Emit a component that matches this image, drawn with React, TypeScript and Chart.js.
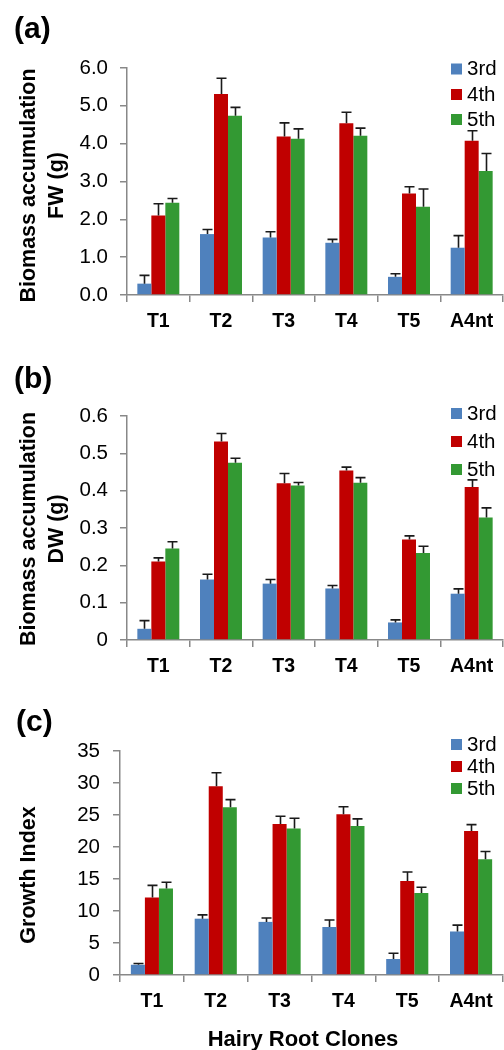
import React, { useEffect, useRef } from "react";
import { Chart, registerables } from "chart.js";

Chart.register(...registerables);

const FONT = '"Liberation Sans", Arial, Helvetica, sans-serif';

// ---------- data ----------
const categories = ["T1", "T2", "T3", "T4", "T5", "A4nt"];
const seriesLabels = ["3rd", "4th", "5th"];
const seriesColors = ["#4F81BD", "#C00000", "#339933"];

// (a) Biomass accumulation FW (g)
const fw3rd = [0.3, 1.61, 1.52, 1.38, 0.48, 1.25];
const fw3rdErr = [0.22, 0.12, 0.15, 0.09, 0.08, 0.32];
const fw4th = [2.1, 5.31, 4.19, 4.54, 2.68, 4.08];
const fw4thErr = [0.31, 0.42, 0.36, 0.29, 0.18, 0.26];
const fw5th = [2.44, 4.74, 4.13, 4.21, 2.33, 3.28];
const fw5thErr = [0.11, 0.22, 0.26, 0.2, 0.47, 0.46];

// (b) Biomass accumulation DW (g)
const dw3rd = [0.03, 0.162, 0.151, 0.138, 0.047, 0.124];
const dw3rdErr = [0.022, 0.014, 0.011, 0.008, 0.007, 0.013];
const dw4th = [0.21, 0.532, 0.42, 0.454, 0.269, 0.41];
const dw4thErr = [0.01, 0.021, 0.026, 0.009, 0.01, 0.019];
const dw5th = [0.245, 0.475, 0.414, 0.421, 0.233, 0.328];
const dw5thErr = [0.018, 0.012, 0.008, 0.014, 0.018, 0.026];

// (c) Growth Index
const gi3rd = [1.6, 8.8, 8.3, 7.5, 2.5, 6.8];
const gi3rdErr = [0.2, 0.6, 0.6, 1.1, 0.9, 1.0];
const gi4th = [12.1, 29.5, 23.6, 25.1, 14.7, 22.5];
const gi4thErr = [1.9, 2.1, 1.2, 1.2, 1.4, 1.0];
const gi5th = [13.5, 26.2, 22.9, 23.3, 12.8, 18.1];
const gi5thErr = [1.0, 1.2, 1.6, 1.1, 0.9, 1.2];

const fwTickLabels = ["0.0", "1.0", "2.0", "3.0", "4.0", "5.0", "6.0"];
const dwTickLabels = ["0", "0.1", "0.2", "0.3", "0.4", "0.5", "0.6"];
const giTickLabels = ["0", "5", "10", "15", "20", "25", "30", "35"];

// ---------- layout ----------
interface PanelSpec {
  top: number;
  height: number;
  tag: string;
  tagX: number;
  tagY: number;
  yTitle: string[];
  yTitleX: number[];
  yTitleCY: number;
  xTitle?: string;
  xTitleX?: number;
  xTitleY?: number;
  area: { left: number; top: number; bottom: number; right: number };
  yMax: number;
  yStep: number;
  tickLabels: string[];
  tickPad: number;
  catPct: number;
  legendYs: number[];
  means: number[][];
  errs: number[][];
}

const panels: PanelSpec[] = [
  {
    top: 0,
    height: 340,
    tag: "(a)",
    tagX: 14,
    tagY: 30,
    yTitle: ["Biomass accumulation", "FW (g)"],
    yTitleX: [29, 57.5],
    yTitleCY: 185.5,
    area: { left: 127, top: 68, bottom: 295, right: 503 },
    yMax: 6,
    yStep: 1,
    tickLabels: fwTickLabels,
    tickPad: 12,
    catPct: 0.67,
    legendYs: [69, 94.5, 119.5],
    means: [fw3rd, fw4th, fw5th],
    errs: [fw3rdErr, fw4thErr, fw5thErr],
  },
  {
    top: 340,
    height: 340,
    tag: "(b)",
    tagX: 14,
    tagY: 40,
    yTitle: ["Biomass accumulation", "DW (g)"],
    yTitleX: [29, 57.5],
    yTitleCY: 189,
    area: { left: 127, top: 76, bottom: 300, right: 503 },
    yMax: 0.6,
    yStep: 0.1,
    tickLabels: dwTickLabels,
    tickPad: 12,
    catPct: 0.67,
    legendYs: [73.5, 101.5, 129.5],
    means: [dw3rd, dw4th, dw5th],
    errs: [dw3rdErr, dw4thErr, dw5thErr],
  },
  {
    top: 680,
    height: 370,
    tag: "(c)",
    tagX: 16,
    tagY: 43,
    yTitle: ["Growth Index"],
    yTitleX: [29],
    yTitleCY: 195,
    xTitle: "Hairy Root Clones",
    xTitleX: 303,
    xTitleY: 360,
    area: { left: 120, top: 71, bottom: 295, right: 503 },
    yMax: 35,
    yStep: 5,
    tickLabels: giTickLabels,
    tickPad: 13,
    catPct: 0.66,
    legendYs: [64.5, 86.5, 108.5],
    means: [gi3rd, gi4th, gi5th],
    errs: [gi3rdErr, gi4thErr, gi5thErr],
  },
];

const errorBarPlugin = {
  id: "errorBars",
  afterDatasetsDraw(chart: any) {
    const ctx = chart.ctx;
    const yScale = chart.scales.y;
    ctx.save();
    ctx.strokeStyle = "#1a1a1a";
    ctx.lineWidth = 1.6;
    chart.data.datasets.forEach((ds: any, i: number) => {
      const meta = chart.getDatasetMeta(i);
      meta.data.forEach((bar: any, j: number) => {
        const hi = yScale.getPixelForValue(ds.data[j] + ds.errors[j]);
        const x = Math.round(bar.x) + 0.5;
        ctx.beginPath();
        ctx.moveTo(x, bar.y);
        ctx.lineTo(x, hi);
        ctx.moveTo(x - 5, hi);
        ctx.lineTo(x + 5, hi);
        ctx.stroke();
      });
    });
    ctx.restore();
  },
};

function makeDecorPlugin(spec: PanelSpec) {
  return {
    id: "decor",
    afterDraw(chart: any) {
      const ctx = chart.ctx;
      ctx.save();
      ctx.fillStyle = "#000";
      // panel tag
      ctx.font = `bold 30px ${FONT}`;
      ctx.textAlign = "left";
      ctx.textBaseline = "middle";
      ctx.fillText(spec.tag, spec.tagX, spec.tagY);
      // y title
      ctx.font = `bold 21.5px ${FONT}`;
      spec.yTitle.forEach((t, i) => {
        ctx.save();
        ctx.translate(spec.yTitleX[i], spec.yTitleCY);
        ctx.rotate(-Math.PI / 2);
        ctx.textAlign = "center";
        ctx.textBaseline = "middle";
        ctx.fillText(t, 0, 0);
        ctx.restore();
      });
      // x title
      if (spec.xTitle) {
        ctx.font = `bold 22px ${FONT}`;
        ctx.textAlign = "center";
        ctx.textBaseline = "middle";
        ctx.fillText(spec.xTitle, spec.xTitleX as number, spec.xTitleY as number);
      }
      // legend
      ctx.font = `20.5px ${FONT}`;
      ctx.textAlign = "left";
      ctx.textBaseline = "middle";
      chart.data.datasets.forEach((ds: any, i: number) => {
        const ly = spec.legendYs[i];
        ctx.fillStyle = ds.backgroundColor;
        ctx.fillRect(451, ly - 5.5, 11, 11);
        ctx.fillStyle = "#000";
        ctx.fillText(ds.label, 467, ly + 0.5);
      });
      ctx.restore();
    },
  };
}

function Panel({ spec }: { spec: PanelSpec }) {
  const ref = useRef<HTMLCanvasElement>(null);
  useEffect(() => {
    if (!ref.current) return;
    const a = spec.area;
    const chart = new Chart(ref.current, {
      type: "bar",
      data: {
        labels: categories,
        datasets: seriesLabels.map((lab, i) => ({
          label: lab,
          data: spec.means[i],
          errors: spec.errs[i],
          backgroundColor: seriesColors[i],
          borderWidth: 0,
          categoryPercentage: spec.catPct,
          barPercentage: 1,
        })) as any,
      },
      options: {
        animation: false,
        responsive: false,
        maintainAspectRatio: false,
        layout: {
          padding: { top: a.top, left: 0, right: 504 - a.right, bottom: 0 },
        },
        plugins: {
          legend: { display: false },
          tooltip: { enabled: false },
          title: { display: false },
        },
        scales: {
          x: {
            afterFit: (s: any) => {
              s.height = spec.height - a.bottom;
            },
            grid: {
              offset: true,
              drawOnChartArea: false,
              drawTicks: true,
              tickLength: 7,
              color: "#888",
              lineWidth: 1.5,
            },
            border: { display: true, color: "#888", width: 1.5 },
            ticks: {
              color: "#000",
              padding: 8,
              font: { family: FONT, size: 19.5, weight: "bold" },
              maxRotation: 0,
              autoSkip: false,
            },
          },
          y: {
            min: 0,
            max: spec.yMax,
            afterFit: (s: any) => {
              s.width = a.left;
            },
            grid: {
              drawOnChartArea: false,
              drawTicks: true,
              tickLength: 7,
              color: "#888",
              lineWidth: 1.5,
            },
            border: { display: true, color: "#888", width: 1.5 },
            ticks: {
              stepSize: spec.yStep,
              color: "#000",
              padding: spec.tickPad,
              font: { family: FONT, size: 20.5 },
              callback: (_v: any, idx: number) => spec.tickLabels[idx],
            },
          },
        },
      } as any,
      plugins: [errorBarPlugin, makeDecorPlugin(spec)],
    });
    return () => chart.destroy();
  }, [spec]);
  return (
    <canvas
      ref={ref}
      width={504}
      height={spec.height}
      style={{
        position: "absolute",
        left: 0,
        top: spec.top,
        width: 504,
        height: spec.height,
        display: "block",
      }}
    />
  );
}

export default function App() {
  return (
    <div
      style={{
        position: "absolute",
        left: 0,
        top: 0,
        width: 504,
        height: 1050,
        background: "#fff",
        overflow: "hidden",
      }}
    >
      {panels.map((p) => (
        <Panel key={p.tag} spec={p} />
      ))}
    </div>
  );
}
